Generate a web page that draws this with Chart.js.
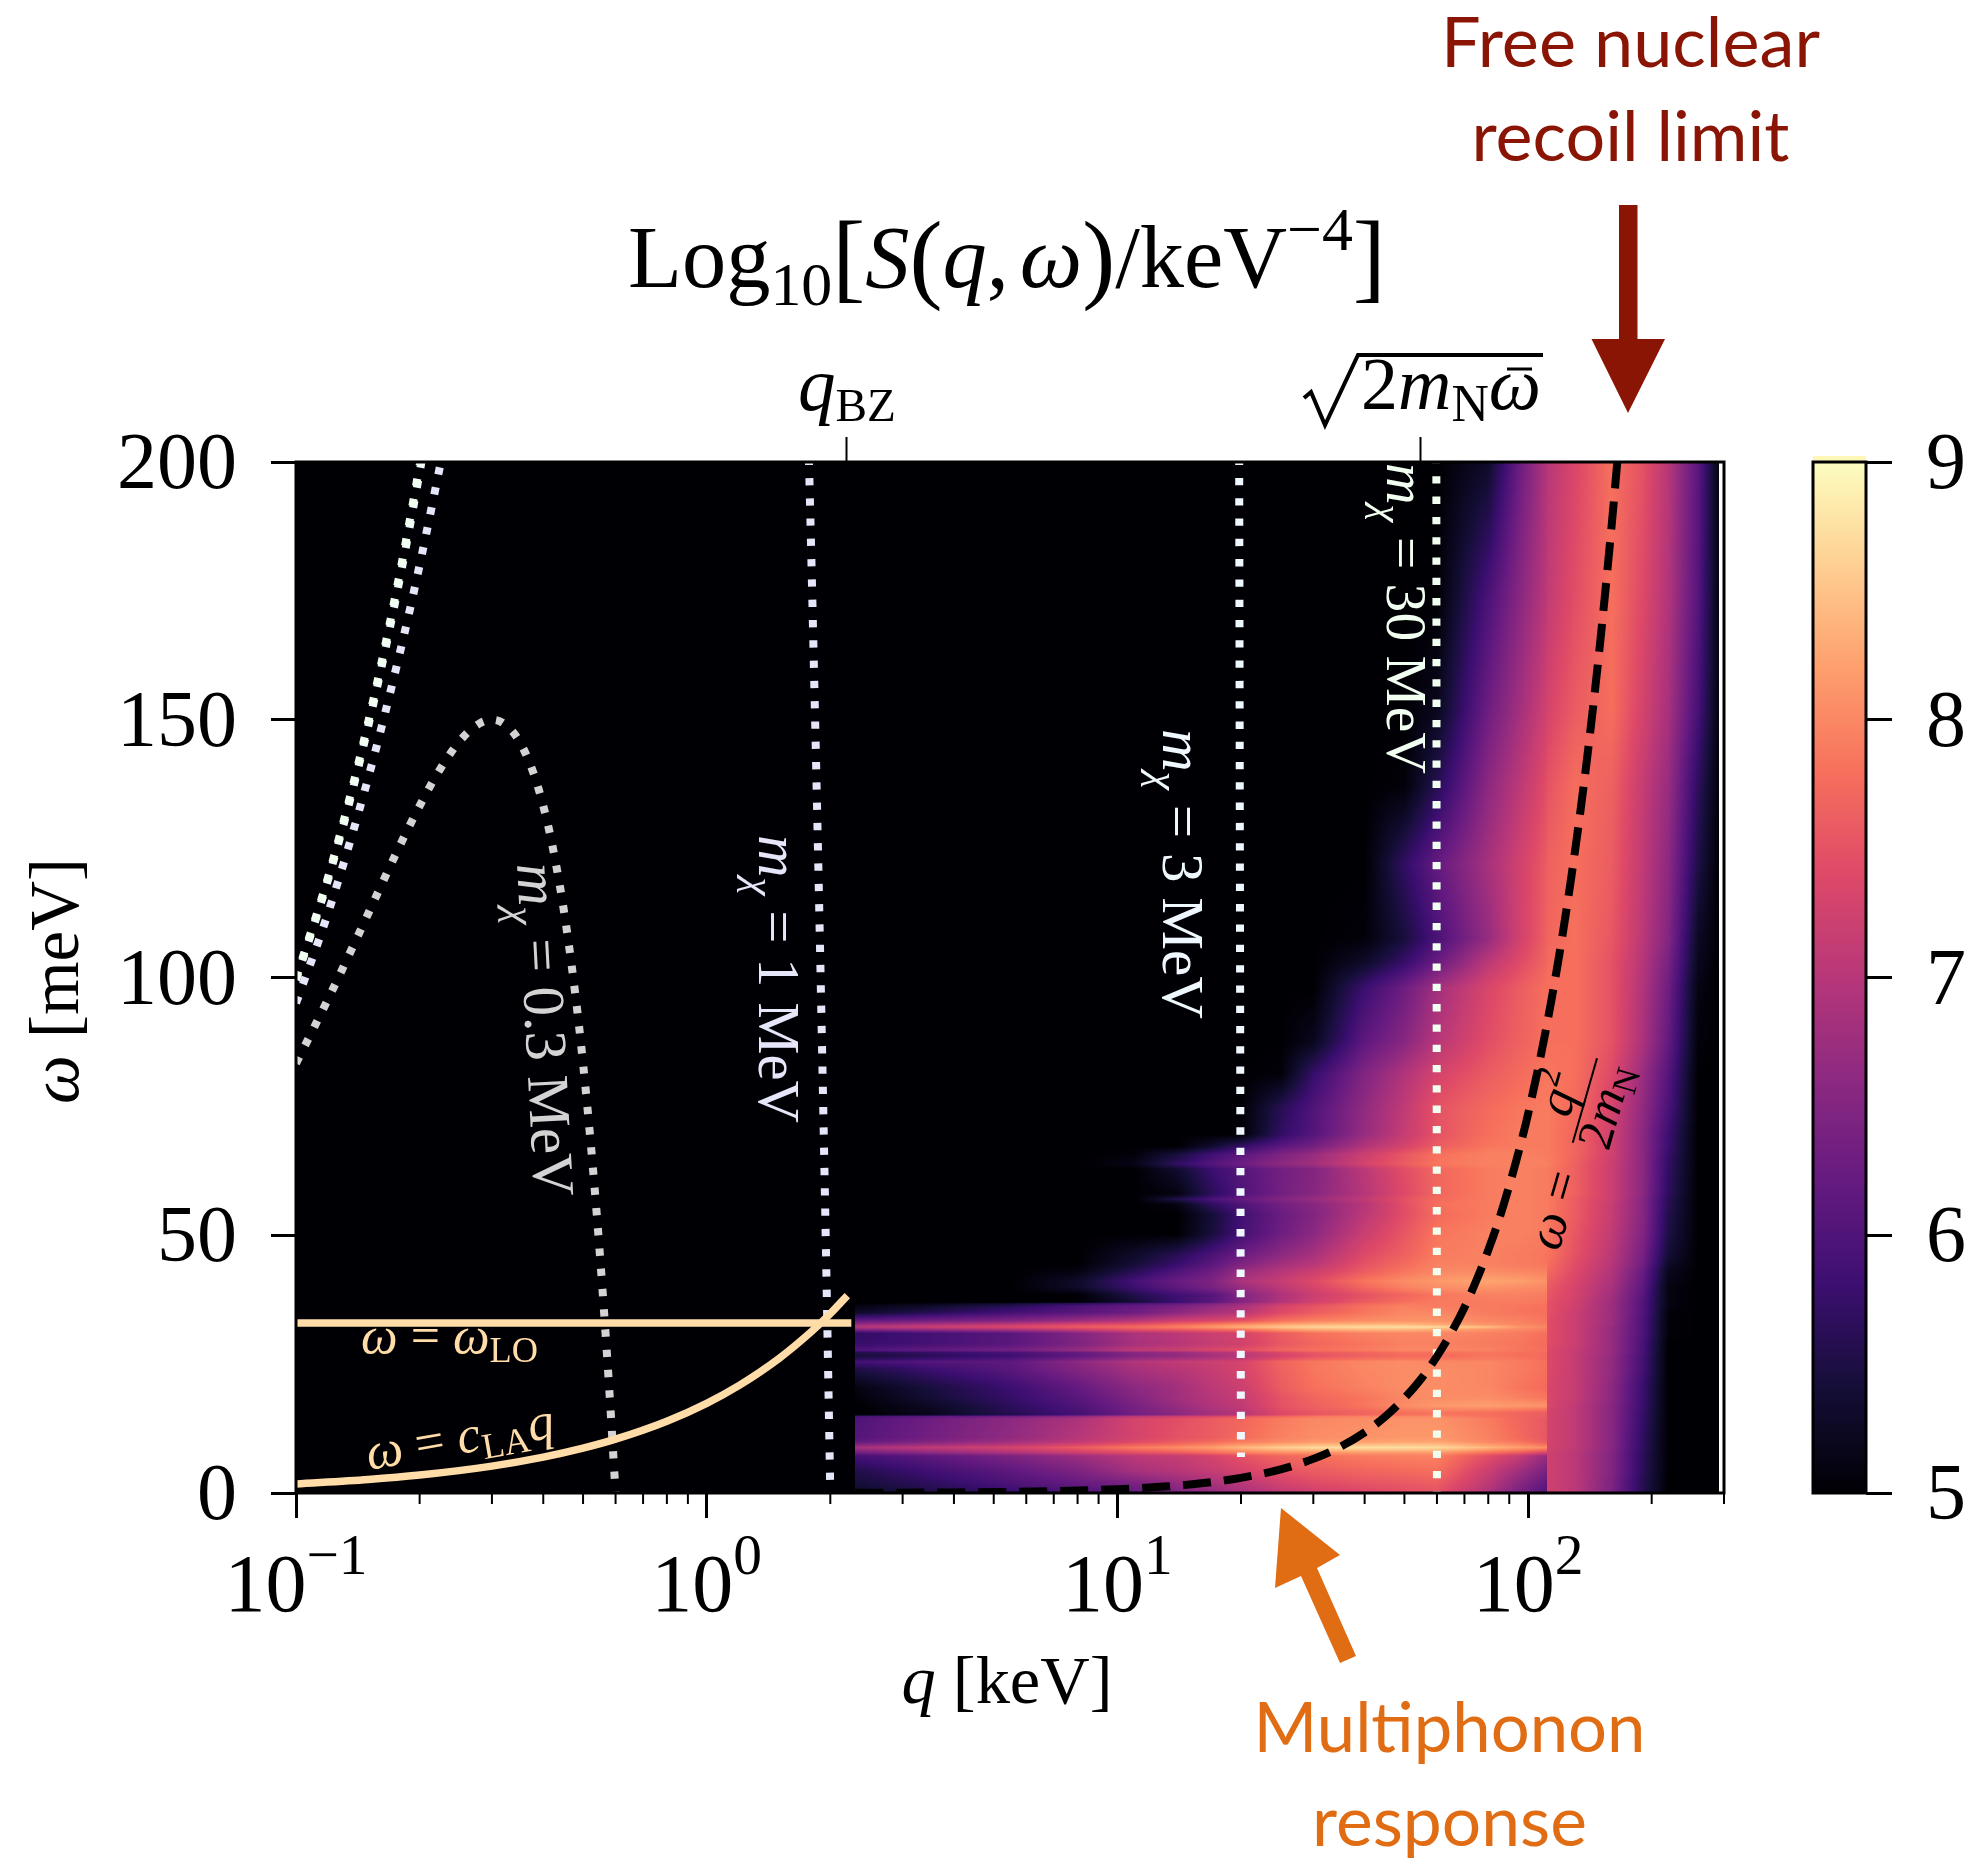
<!DOCTYPE html>
<html><head><meta charset="utf-8">
<script src="https://cdn.jsdelivr.net/npm/chart.js@4"></script>
<style>html,body{margin:0;padding:0;background:#fff}canvas{position:absolute;top:0}</style>
</head><body>
<canvas id="main" width="1979" height="1866" style="left:0"></canvas>
<canvas id="cbar" width="199" height="1866" style="left:1780px"></canvas>
<script>
// ---------- axis ticks ----------
const xMajorTicks=[0.1,1,10,100];
const xTickBase=['10','10','10','10'];
const xTickExp=['\u22121','0','1','2'];
const xMinorTicks=[0.2,0.3,0.4,0.5,0.6,0.7,0.8,0.9,2,3,4,5,6,7,8,9,20,30,40,50,60,70,80,90,200,300];
const xTopTicks=[2.19,54.7];
const yTicks=[0,50,100,150,200];
const cbTicks=[5,6,7,8,9];
// ---------- colour map (magma) ----------
const cmapLevels=[5,5.4,5.8,6.2,6.6,7,7.4,7.8,8.2,8.6,9];
const cmapColors=['#000004','#140e36','#3b0f70','#641a80','#8c2981','#b73779','#de4968','#f7705c','#fe9f6d','#fecf92','#fcfdbf'];
// ---------- heat map: q columns, omega rows, log10 S read per row ----------
const qCols=[2.3,3.5,5.5,8,11,14,17,20,25,30,40,50,60,80,95,110.9,111,130,160,190,220,260,292];
const rowOmega=[0,1.7,4.3,7.2,7.8,8.8,9.9,10.7,14.4,14.85,15.2,15.6,16.9,18.5,20.4,24,25.5,26,26.6,27.2,27.7,28.9,31,31.7,32.2,32.7,33.4,35,36.3,36.8,37,38.4,39.8,41.1,43,44.5,46.3,50.2,54,56,57,58,62.8,63.8,65.7,67.3,69.6,74.7,81.2,87.7,98,103,107.5,122,137,152,174,200];
const S_w0=[5.3,5.5,5.7,5.95,6.2,6.45,6.65,6.85,7.05,7.2,7.35,7.45,7.5,6.9,6.4,6.05,7.25,7.05,6.45,5.6,5,5,5];
const S_w1_7=[5.4,5.65,5.95,6.2,6.4,6.65,6.85,7.0,7.25,7.4,7.5,7.55,7.6,7.05,6.55,6.15,7.25,7.05,6.45,5.6,5,5,5];
const S_w4_3=[5.55,5.85,6.15,6.45,6.85,7.0,7.15,7.3,7.5,7.6,7.7,7.75,7.8,7.2,6.8,6.4,7.25,7.05,6.5,5.65,5,5,5];
const S_w7_2=[5.9,6.15,6.45,6.75,7.05,7.15,7.3,7.5,7.7,7.8,7.9,7.95,7.95,7.45,7.15,6.7,7.25,7.05,6.5,5.65,5,5,5];
const S_w7_8=[6.3,6.6,6.9,7.2,7.45,7.6,7.75,7.9,8.05,8.1,8.15,8.15,8.15,7.8,7.6,7.3,7.25,7.05,6.5,5.65,5,5,5];
const S_w8_8=[6.85,7.1,7.3,7.6,7.9,8.05,8.2,8.4,8.6,8.7,8.75,8.75,8.7,8.4,8.2,8.05,7.3,7.1,6.55,5.7,5,5,5];
const S_w9_9=[6.2,6.5,6.8,7.1,7.4,7.6,7.75,7.9,8.05,8.15,8.2,8.25,8.25,8.0,7.85,7.6,7.3,7.1,6.55,5.7,5,5,5];
const S_w10_7=[6.05,6.35,6.65,7.0,7.3,7.5,7.6,7.75,7.95,8.05,8.1,8.15,8.15,7.95,7.75,7.55,7.3,7.1,6.55,5.7,5,5,5];
const S_w14_4=[6.0,6.3,6.6,6.9,7.3,7.45,7.6,7.7,7.9,8.0,8.05,8.1,8.1,7.9,7.7,7.55,7.3,7.1,6.55,5.75,5,5,5];
const S_w14_85=[5.9,6.1,6.3,6.6,7.05,7.2,7.35,7.5,7.7,7.85,7.95,8.0,8.0,7.8,7.7,7.6,7.3,7.1,6.55,5.75,5,5,5];
const S_w15_2=[5.0,5.2,5.55,5.9,6.35,6.6,6.85,7.0,7.4,7.55,7.7,7.8,7.85,7.8,7.7,7.6,7.3,7.1,6.55,5.75,5,5,5];
const S_w15_6=[5.0,5.2,5.6,5.9,6.35,6.6,6.85,7.0,7.4,7.55,7.7,7.8,7.85,7.8,7.7,7.6,7.3,7.1,6.55,5.75,5,5,5];
const S_w16_9=[5.0,5.25,5.65,6.0,6.4,6.7,6.95,7.1,7.5,7.65,7.85,8.05,8.15,8.2,8.15,8.1,7.35,7.1,6.55,5.8,5,5,5];
const S_w18_5=[5.05,5.4,5.75,6.1,6.5,6.8,7.0,7.15,7.5,7.7,7.85,8.0,8.05,8.05,7.95,7.85,7.35,7.15,6.6,5.8,5,5,5];
const S_w20_4=[5.1,5.45,5.8,6.2,6.6,6.8,7.05,7.2,7.6,7.8,7.95,8.05,8.05,8.0,7.85,7.75,7.35,7.15,6.6,5.8,5.0,5,5];
const S_w24=[5.5,5.8,6.1,6.5,6.85,7.0,7.15,7.3,7.65,7.85,8.0,8.05,8.05,8.0,7.9,7.8,7.4,7.15,6.65,5.9,5.0,5,5];
const S_w25_5=[5.9,6.05,6.15,6.6,6.95,7.1,7.2,7.3,7.7,7.85,8.0,8.05,8.0,8.0,7.9,7.8,7.4,7.15,6.65,5.9,5.0,5,5];
const S_w26=[5.6,5.8,6.0,6.35,6.7,6.85,7.0,7.1,7.45,7.65,7.8,7.85,7.85,7.9,7.85,7.75,7.4,7.15,6.65,5.9,5.0,5,5];
const S_w26_6=[5.45,5.65,5.85,6.15,6.5,6.65,6.85,7.0,7.3,7.5,7.65,7.75,7.75,7.85,7.8,7.75,7.4,7.15,6.65,5.9,5.0,5,5];
const S_w27_2=[5.5,5.7,5.9,6.2,6.55,6.7,6.9,7.05,7.35,7.55,7.7,7.8,7.8,7.85,7.8,7.75,7.4,7.15,6.7,5.95,5.0,5,5];
const S_w27_7=[6.0,6.2,6.35,6.7,7.1,7.2,7.35,7.45,7.7,7.8,7.9,8.0,8.0,7.95,7.85,7.8,7.4,7.15,6.7,5.95,5.0,5,5];
const S_w28_9=[5.75,5.9,6.1,6.45,6.85,7.0,7.15,7.25,7.55,7.7,7.85,7.95,7.95,7.9,7.85,7.75,7.45,7.2,6.7,5.95,5.0,5,5];
const S_w31=[5.7,5.9,6.1,6.5,6.9,7.05,7.2,7.3,7.6,7.8,7.95,8.0,8.0,7.95,7.9,7.8,7.45,7.2,6.7,6.0,5.05,5,5];
const S_w31_7=[6.5,6.7,6.9,7.2,7.5,7.6,7.75,7.85,8.15,8.3,8.4,8.4,8.3,8.1,8.0,7.9,7.45,7.2,6.7,6.0,5.05,5,5];
const S_w32_2=[7.0,7.2,7.4,7.6,7.75,7.95,8.15,8.35,8.55,8.65,8.72,8.75,8.7,8.45,8.15,8.0,7.45,7.2,6.7,6.0,5.05,5,5];
const S_w32_7=[6.7,6.9,7.1,7.35,7.5,7.7,7.9,8.05,8.25,8.35,8.4,8.4,8.3,8.1,8.0,7.9,7.45,7.2,6.75,6.0,5.05,5,5];
const S_w33_4=[6.2,6.35,6.5,6.75,7.0,7.25,7.35,7.5,7.8,7.95,8.05,8.1,8.1,8.0,7.95,7.85,7.45,7.2,6.75,6.0,5.05,5,5];
const S_w35=[5.3,5.6,5.9,6.1,6.3,6.6,6.85,7.0,7.4,7.6,7.85,8.0,8.0,7.9,7.85,7.8,7.5,7.2,6.75,6.05,5.05,5,5];
const S_w36_3=[5.1,5.3,5.6,5.95,6.2,6.4,6.65,6.85,7.3,7.5,7.8,7.95,7.9,7.9,7.85,7.8,7.5,7.25,6.75,6.05,5.1,5,5];
const S_w36_8=[5.0,5.1,5.3,5.6,5.9,6.1,6.4,6.7,7.1,7.35,7.7,7.85,7.9,7.9,7.9,7.85,7.5,7.25,6.75,6.05,5.1,5,5];
const S_w37=[5,5,5,5,5.4,5.8,6.1,6.5,6.95,7.25,7.6,7.8,7.9,7.9,7.9,7.85,7.5,7.25,6.75,6.05,5.1,5,5];
const S_w38_4=[5,5,5,5,5.55,5.85,6.05,6.5,6.9,7.2,7.5,7.7,7.85,7.95,7.95,7.9,7.55,7.3,6.8,6.1,5.1,5,5];
const S_w39_8=[5,5,5,5.3,5.8,6.15,6.4,6.7,7.05,7.3,7.7,7.95,8.05,8.1,8.05,8.0,7.6,7.3,6.85,6.15,5.1,5,5];
const S_w41_1=[5,5,5,5.3,5.9,6.25,6.45,6.9,7.15,7.4,7.85,8.05,8.15,8.25,8.2,8.1,7.65,7.35,6.9,6.2,5.15,5,5];
const S_w43=[5,5,5,5.1,5.6,6.0,6.3,6.7,7.0,7.2,7.6,7.85,8.0,8.05,8.0,7.95,7.75,7.4,6.95,6.25,5.2,5,5];
const S_w44_5=[5,5,5,5,5.4,5.75,6.1,6.45,6.8,7.0,7.5,7.75,7.95,7.95,7.9,7.85,7.8,7.45,7.0,6.35,5.3,5,5];
const S_w46_3=[5,5,5,5,5.3,5.6,5.95,6.25,6.6,6.85,7.4,7.65,7.9,7.95,7.9,7.85,7.85,7.5,7.05,6.4,5.4,5,5];
const S_w50_2=[5,5,5,5,5,5,5.45,5.9,6.3,6.6,7.2,7.55,7.85,7.95,7.95,7.9,7.85,7.55,7.1,6.5,5.5,5,5];
const S_w54=[5,5,5,5,5,5,5.4,5.85,6.25,6.5,7.05,7.45,7.75,7.9,7.95,7.9,7.9,7.6,7.15,6.55,5.55,5,5];
const S_w56=[5,5,5,5,5,5.1,5.7,6.0,6.35,6.55,7.0,7.45,7.8,7.9,7.95,7.9,7.9,7.6,7.15,6.55,5.6,5,5];
const S_w57=[5,5,5,5,5,5.55,5.95,6.2,6.5,6.7,7.1,7.5,7.75,7.9,7.95,7.9,7.9,7.6,7.2,6.55,5.6,5,5];
const S_w58=[5,5,5,5,5,5.1,5.65,6.0,6.35,6.55,7.0,7.4,7.7,7.9,7.95,7.9,7.9,7.65,7.2,6.6,5.65,5,5];
const S_w62_8=[5,5,5,5,5,5.35,5.8,6.05,6.35,6.5,7.05,7.45,7.7,7.9,7.95,7.9,7.9,7.65,7.2,6.6,5.7,5,5];
const S_w63_8=[5,5,5,5,5.15,5.7,6.05,6.3,6.6,6.8,7.3,7.6,7.85,7.95,7.95,7.95,7.95,7.65,7.2,6.6,5.7,5,5];
const S_w65_7=[5,5,5,5,5.05,5.45,5.85,6.1,6.45,6.7,7.2,7.55,7.8,7.95,7.95,7.9,7.9,7.7,7.25,6.6,5.75,5,5];
const S_w67_3=[5,5,5,5,5,5,5.35,5.7,6.1,6.35,6.95,7.3,7.6,7.85,7.9,7.9,7.9,7.7,7.25,6.6,5.8,5,5];
const S_w69_6=[5,5,5,5,5,5,5,5,5.7,6.05,6.7,7.15,7.5,7.8,7.9,7.9,7.9,7.7,7.25,6.6,5.8,5,5];
const S_w74_7=[5,5,5,5,5,5,5,5,5.6,6.0,6.65,7.1,7.5,7.75,7.85,7.9,7.9,7.75,7.3,6.65,5.95,5,5];
const S_w81_2=[5,5,5,5,5,5,5,5,5.05,5.75,6.5,6.95,7.3,7.6,7.75,7.85,7.85,7.8,7.4,6.75,6.05,5,5];
const S_w87_7=[5,5,5,5,5,5,5,5,5,5.2,6.15,6.55,7.0,7.45,7.65,7.8,7.8,7.8,7.5,6.9,6.2,5.05,5];
const S_w98=[5,5,5,5,5,5,5,5,5,5.0,5.8,6.3,6.8,7.35,7.6,7.8,7.8,7.8,7.5,6.95,6.3,5.1,5];
const S_w103=[5,5,5,5,5,5,5,5,5,5,5.3,5.75,6.25,7.05,7.4,7.7,7.75,7.8,7.5,7.0,6.4,5.2,5];
const S_w107_5=[5,5,5,5,5,5,5,5,5,5,5.05,5.45,5.95,6.7,7.25,7.65,7.7,7.8,7.55,7.05,6.5,5.25,5];
const S_w122=[5,5,5,5,5,5,5,5,5,5,5,5.7,6.2,6.85,7.25,7.6,7.65,7.8,7.6,7.1,6.6,5.5,5];
const S_w137=[5,5,5,5,5,5,5,5,5,5,5,5.05,5.6,6.6,7.05,7.45,7.5,7.78,7.65,7.15,6.7,5.65,5.05];
const S_w152=[5,5,5,5,5,5,5,5,5,5,5,5,5.2,6.3,6.8,7.25,7.3,7.6,7.78,7.3,6.85,5.9,5.1];
const S_w174=[5,5,5,5,5,5,5,5,5,5,5,5,5,5.95,6.55,7.05,7.1,7.45,7.8,7.4,6.95,6.05,5.1];
const S_w200=[5,5,5,5,5,5,5,5,5,5,5,5,5,5.3,6.25,6.95,7.0,7.35,7.8,7.5,7.0,6.1,5.1];
const heatRows=[S_w0,S_w1_7,S_w4_3,S_w7_2,S_w7_8,S_w8_8,S_w9_9,S_w10_7,S_w14_4,S_w14_85,S_w15_2,S_w15_6,S_w16_9,S_w18_5,S_w20_4,S_w24,S_w25_5,S_w26,S_w26_6,S_w27_2,S_w27_7,S_w28_9,S_w31,S_w31_7,S_w32_2,S_w32_7,S_w33_4,S_w35,S_w36_3,S_w36_8,S_w37,S_w38_4,S_w39_8,S_w41_1,S_w43,S_w44_5,S_w46_3,S_w50_2,S_w54,S_w56,S_w57,S_w58,S_w62_8,S_w63_8,S_w65_7,S_w67_3,S_w69_6,S_w74_7,S_w81_2,S_w87_7,S_w98,S_w103,S_w107_5,S_w122,S_w137,S_w152,S_w174,S_w200];
// ---------- curves ----------
const m03_q=[.1,.12,.14,.16,.18,.2,.22,.25,.28,.3,.32,.35,.38,.4,.42,.45,.48,.5,.52,.54,.56,.58,.6];
const m03_w=[83.3,96,107.3,117.3,126,133.3,139.3,145.8,149.3,150,149.3,145.8,139.3,133.3,126,112.5,96,83.3,69.3,54,37.3,19.3,0];
const m1L_q=[.1,.12,.15,.18,.2,.23];
const m1L_w=[95,112.8,138.8,163.8,180,203.5];
const m1R_q=[1.7746,1.8,1.85,1.9,1.95,2];
const m1R_w=[200,180,138.8,95,48.8,0];
const m3L_q=[.1,.12,.14,.16,.18,.2,.205];
const m3L_w=[99.5,119.3,139,158.7,178.4,198,202.9];
const m3R_q=[19.798,19.85,19.9,19.95,19.993];
const m3R_w=[200,148.9,99.5,49.9,7];
const m30L_q=[.1,.12,.14,.16,.18,.2,.205];
const m30L_w=[99.83,119.76,139.67,159.57,179.46,199.33,204.3];
const m30R_q=[59.8,60];
const m30R_w=[200,0];
const la_q=[.1,.15,.2,.3,.4,.5,.6,.8,1,1.2,1.5,1.8,2,2.2];
const la_w=[1.74,2.61,3.48,5.22,6.96,8.7,10.44,13.92,17.4,20.88,26.1,31.32,34.8,38.3];
const lo_q=[.1,2.25];
const lo_w=[33,33];
const rec_q=[2.3,3,4,5,7,10,13,16,20,25,30,35,40,45,50,55,60,65,70,75,80,85,90,95,100,110,120,130,140,150,160,165,170];
const rec_w=[.039,.066,.118,.184,.36,.735,1.24,1.88,2.94,4.6,6.62,9,11.76,14.9,18.4,22.2,26.5,31.1,36,41.4,47.1,53.1,59.6,66.4,73.5,89,105.9,124.3,144.1,165.4,188.2,200.2,212.5];

const SERIF='"Liberation Serif"';
const zip=(a,b)=>a.map((v,i)=>({x:v,y:b[i]}));
function dotted(label,q,w,color,off,ord){return {label,data:zip(q,w),showLine:true,pointRadius:0,borderColor:color,borderWidth:8,borderDash:[7.3,13],borderDashOffset:off,borderCapStyle:'butt',cubicInterpolationMode:'monotone',clip:0,order:ord,xAxisID:'x',yAxisID:'y'};}

// draw a list of text runs [text, 'r'|'i', sizeScale, dyScale]
function runsWidth(ctx,runs,size){let w=0;for(const r of runs){ctx.font=(r[1]==='i'?'italic ':'')+(size*(r[2]||1))+'px '+SERIF;w+=ctx.measureText(r[0]).width;}return w;}
function drawRuns(ctx,runs,x,y,o){
  let size=o.size||40;let tot=runsWidth(ctx,runs,size);
  if(o.width){size*=o.width/tot;tot=o.width;}
  ctx.save();ctx.translate(x,y);if(o.rot)ctx.rotate(o.rot*Math.PI/180);
  ctx.fillStyle=o.color||'#000';ctx.textAlign='left';ctx.textBaseline='alphabetic';
  let cx=o.align==='center'?-tot/2:0;
  for(const r of runs){ctx.font=(r[1]==='i'?'italic ':'')+(size*(r[2]||1))+'px '+SERIF;ctx.fillText(r[0],cx,(r[3]||0)*size);cx+=ctx.measureText(r[0]).width;}
  ctx.restore();
}
function sans(ctx,t,cx,y,width,color){ctx.save();ctx.font='60px Lato';const w=ctx.measureText(t).width;ctx.font=(60*width/w)+'px Lato';ctx.fillStyle=color;ctx.textAlign='center';ctx.textBaseline='alphabetic';ctx.fillText(t,cx,y);ctx.restore();}
function poly(ctx,pts,color){ctx.fillStyle=color;ctx.beginPath();pts.forEach((p,i)=>i?ctx.lineTo(p[0],p[1]):ctx.moveTo(p[0],p[1]));ctx.closePath();ctx.fill();}

function hexRGB(h){return [1,3,5].map(i=>parseInt(h.substr(i,2),16));}
const lut=(()=>{const n=1024,o=new Uint8Array(n*3),s=cmapColors.map(hexRGB),L=cmapLevels;
  for(let i=0;i<n;i++){const v=5+4*i/(n-1);let k=0;while(k<L.length-2&&v>L[k+1])k++;const f=(v-L[k])/(L[k+1]-L[k]);for(let c=0;c<3;c++)o[i*3+c]=s[k][c]+(s[k+1][c]-s[k][c])*f;}
  return o;})();

const heatPlugin={id:'heat',beforeDatasetsDraw(chart){
  const {ctx,chartArea:a,scales:{x,y}}=chart;
  const W=Math.round(a.right-a.left),H=Math.round(a.bottom-a.top);
  const off=document.createElement('canvas');off.width=W;off.height=H;
  const oc=off.getContext('2d'),img=oc.createImageData(W,H),d=img.data;
  const lc=qCols.map(Math.log10),xi=new Int32Array(W),xf=new Float64Array(W);
  for(let i=0;i<W;i++){const q=Math.log10(x.getValueForPixel(a.left+i+.5));
    if(q<lc[0]){xi[i]=-1;continue;} if(q>lc[lc.length-1]){xi[i]=-2;continue;}
    let k=0;while(k<lc.length-2&&q>lc[k+1])k++;xi[i]=k;xf[i]=(q-lc[k])/(lc[k+1]-lc[k]);}
  for(let j=0;j<H;j++){const w=y.getValueForPixel(a.top+j+.5);
    let r=0;while(r<rowOmega.length-2&&w>rowOmega[r+1])r++;
    const g=Math.max(0,Math.min(1,(w-rowOmega[r])/(rowOmega[r+1]-rowOmega[r])));
    const R0=heatRows[r],R1=heatRows[r+1];
    for(let i=0;i<W;i++){const p=(j*W+i)*4,k=xi[i];
      if(k===-2){d[p+3]=0;continue;}
      let v=5;
      if(k>=0){const f=xf[i];v=(R0[k]*(1-f)+R0[k+1]*f)*(1-g)+(R1[k]*(1-f)+R1[k+1]*f)*g;}
      const t=Math.max(0,Math.min(1023,Math.round((v-5)/4*1023)))*3;
      d[p]=lut[t];d[p+1]=lut[t+1];d[p+2]=lut[t+2];d[p+3]=255;}
  }
  oc.putImageData(img,0,0);ctx.drawImage(off,a.left,a.top);
}};

const overlayPlugin={id:'overlay',afterDatasetsDraw(chart){
  const {ctx,chartArea:a,scales:{x}}=chart;
  const mx='\u03C7',om='\u03C9';
  // rotated labels inside the plot
  const mlabel=v=>[['m','i'],[mx,'i',.7,.22],[' = '+v+' MeV','r']];
  drawRuns(ctx,mlabel('0.3'),517,864,{rot:87,width:334,color:'#d3d3d3'});
  drawRuns(ctx,mlabel('1'),759,835,{rot:90,width:288,color:'#e6e6fa'});
  drawRuns(ctx,mlabel('3'),1163,729,{rot:90,width:290,color:'#f0f8ff'});
  drawRuns(ctx,mlabel('30'),1387,463,{rot:90,width:311,color:'#f0fff0'});
  drawRuns(ctx,[[om,'i'],[' = ','r'],[om,'i'],['LO','r',.7,.18]],361,1353,{width:177,color:'#ffdca8'});
  drawRuns(ctx,[[om,'i'],[' = ','r'],['c','i'],['LA','r',.7,.18],['q','i']],369,1470,{rot:-10,width:190,color:'#ffdca8'});
  // recoil label
  ctx.save();ctx.translate(1550,1233);ctx.rotate(-74*Math.PI/180);
  drawRuns(ctx,[[om,'i'],[' = ','r']],-16,14,{width:92});
  ctx.strokeStyle='#000';ctx.lineWidth=2;ctx.beginPath();ctx.moveTo(93,-3);ctx.lineTo(181,-3);ctx.stroke();
  drawRuns(ctx,[['q','i'],['2','r',.7,-.4]],137,-13,{width:44,align:'center'});
  drawRuns(ctx,[['2','r'],['m','i'],['N','r',.7,.18]],137,34,{width:86,align:'center'});
  ctx.restore();
  // frame
  ctx.strokeStyle='#000';ctx.lineWidth=3;ctx.strokeRect(a.left,a.top,a.right-a.left,a.bottom-a.top);
  // minor ticks
  ctx.lineWidth=2;xMinorTicks.forEach(q=>{const p=x.getPixelForValue(q);ctx.beginPath();ctx.moveTo(p,a.bottom);ctx.lineTo(p,a.bottom+11);ctx.stroke();});
  // x tick labels
  xMajorTicks.forEach((q,i)=>drawRuns(ctx,[[xTickBase[i],'r'],[xTickExp[i],'r',.7,-.45]],x.getPixelForValue(q),1611,{size:82,align:'center'}));
  // axis titles
  drawRuns(ctx,[['q','i'],[' [keV]','r']],1007,1703,{width:211,align:'center'});
  drawRuns(ctx,[[om,'i'],[' [meV]','r']],78,981,{rot:-90,width:246,align:'center'});
  // title
  drawRuns(ctx,[['Log','r'],['10','r',.7,.2],['[','r',1.12,.03],['S','i'],['(','r',1.12,.03],['q','i'],[',','r'],[' ','r',.5],[om,'i'],[')','r',1.12,.03],['/keV','r'],['\u22124','r',.7,-.42],[']','r',1.12,.03]],628,287,{width:758});
  // top axis labels
  drawRuns(ctx,[['q','i'],['BZ','r',.63,.15]],798,410,{width:98});
  drawRuns(ctx,[['2','r'],['m','i'],['N','r',.7,.16],[om,'i']],1361,409,{width:180});
  ctx.strokeStyle='#000';ctx.lineWidth=4;ctx.lineJoin='miter';ctx.beginPath();ctx.moveTo(1304,398);ctx.lineTo(1311,392);ctx.lineTo(1325,425);ctx.lineTo(1358,355);ctx.lineTo(1543,355);ctx.stroke();
  ctx.lineWidth=3;ctx.beginPath();ctx.moveTo(1507,369);ctx.lineTo(1532,369);ctx.stroke();
  // annotations
  const red='#8a1505',orange='#e06c14';
  sans(ctx,'Free nuclear',1630.5,67,379,red);
  sans(ctx,'recoil limit',1630.5,161,318,red);
  sans(ctx,'Multiphonon',1449.5,1752,392,orange);
  sans(ctx,'response',1449.5,1846,275,orange);
  poly(ctx,[[1619,205],[1637.5,205],[1637.5,339],[1665,339],[1628,413],[1591.5,339],[1619,339]],red);
  poly(ctx,[[1281,1508],[1340,1555],[1317,1568],[1356,1656],[1340,1663],[1301,1576],[1275,1588]],orange);
}};

new Chart(document.getElementById('main'),{type:'scatter',plugins:[heatPlugin,overlayPlugin],
 data:{datasets:[
  dotted('mχ = 0.3 MeV',m03_q,m03_w,'#d3d3d3',0,6),
  dotted('mχ = 1 MeV',m1L_q,m1L_w,'#e6e6fa',0,5),
  dotted('mχ = 1 MeV',m1R_q,m1R_w,'#e6e6fa',4.3,5),
  dotted('mχ = 3 MeV',m3L_q,m3L_w,'#f0f8ff',0,4),
  dotted('mχ = 3 MeV',m3R_q,m3R_w,'#f0f8ff',4.3,4),
  dotted('mχ = 30 MeV',m30L_q,m30L_w,'#f0fff0',0,3),
  dotted('mχ = 30 MeV',m30R_q,m30R_w,'#f0fff0',6,3),
  {label:'ω = ωLO',data:zip(lo_q,lo_w),showLine:true,pointRadius:0,borderColor:'#ffdca8',borderWidth:7.5,clip:0,order:2,xAxisID:'x',yAxisID:'y'},
  {label:'ω = cLA q',data:zip(la_q,la_w),showLine:true,pointRadius:0,borderColor:'#ffdca8',borderWidth:7.5,cubicInterpolationMode:'monotone',clip:0,order:1,xAxisID:'x',yAxisID:'y'},
  {label:'ω = q²/2mN',data:zip(rec_q,rec_w),showLine:true,pointRadius:0,borderColor:'#000',borderWidth:8,borderDash:[28,13],borderCapStyle:'butt',cubicInterpolationMode:'monotone',clip:0,order:0,xAxisID:'x',yAxisID:'y'}
 ]},
 options:{responsive:false,animation:false,events:[],
  layout:{padding:{left:0,top:0,right:255,bottom:0}},
  plugins:{legend:{display:false},tooltip:{enabled:false},title:{display:false}},
  scales:{
   x:{type:'logarithmic',position:'bottom',min:.1,max:300,
      afterBuildTicks:s=>{s.ticks=xMajorTicks.map(v=>({value:v}));},
      afterFit:s=>{s.height=1866-1493;},
      ticks:{display:false,callback:v=>v},
      border:{display:false},
      grid:{drawOnChartArea:false,drawTicks:true,tickLength:25,tickWidth:3,tickColor:'#000'}},
   xTop:{type:'logarithmic',position:'top',min:.1,max:300,
      afterBuildTicks:s=>{s.ticks=xTopTicks.map(v=>({value:v}));},
      afterFit:s=>{s.height=462;},
      ticks:{display:false,callback:v=>v},
      border:{display:false},
      grid:{drawOnChartArea:false,drawTicks:true,tickLength:25,tickWidth:2,tickColor:'#000'}},
   y:{type:'linear',position:'left',min:0,max:200,
      afterBuildTicks:s=>{s.ticks=yTicks.map(v=>({value:v}));},
      afterFit:s=>{s.width=296;},
      ticks:{font:{family:SERIF,size:80},color:'#000',padding:34,labelOffset:5,callback:v=>String(v)},
      border:{display:false},
      grid:{drawOnChartArea:false,drawTicks:true,tickLength:25,tickWidth:3,tickColor:'#000'}}
  }}});

const cbPlugin={id:'cbFrame',beforeDatasetsDraw(chart){
   const {ctx,chartArea:a}=chart;ctx.fillStyle='#fdf7b8';ctx.fillRect(a.left,a.top-6,a.right-a.left,6);
 },afterDatasetsDraw(chart){
   const {ctx,chartArea:a}=chart;ctx.strokeStyle='#000';ctx.lineWidth=3;ctx.strokeRect(a.left,a.top,a.right-a.left,a.bottom-a.top);
 }};
new Chart(document.getElementById('cbar'),{type:'bar',plugins:[cbPlugin],
 data:{labels:['Log10 S'],datasets:[{data:[[5,9]],barPercentage:1,categoryPercentage:1,borderWidth:0,
   backgroundColor:c=>{const ch=c.chart,s=ch.scales.y;if(!ch.chartArea||!s)return '#000';
     const g=ch.ctx.createLinearGradient(0,s.getPixelForValue(5),0,s.getPixelForValue(9));
     cmapLevels.forEach((v,i)=>g.addColorStop((v-5)/4,cmapColors[i]));return g;}}]},
 options:{responsive:false,animation:false,events:[],
  layout:{padding:{left:33,top:462,right:0,bottom:373}},
  plugins:{legend:{display:false},tooltip:{enabled:false}},
  scales:{
   x:{display:false},
   y:{position:'right',min:5,max:9,
      afterBuildTicks:s=>{s.ticks=cbTicks.map(v=>({value:v}));},
      afterFit:s=>{s.width=113;},
      ticks:{font:{family:SERIF,size:80},color:'#000',padding:34,labelOffset:5,callback:v=>String(v)},
      border:{display:false},
      grid:{drawOnChartArea:false,drawTicks:true,tickLength:26,tickWidth:3,tickColor:'#000'}}
  }}});
</script>
</body></html>
